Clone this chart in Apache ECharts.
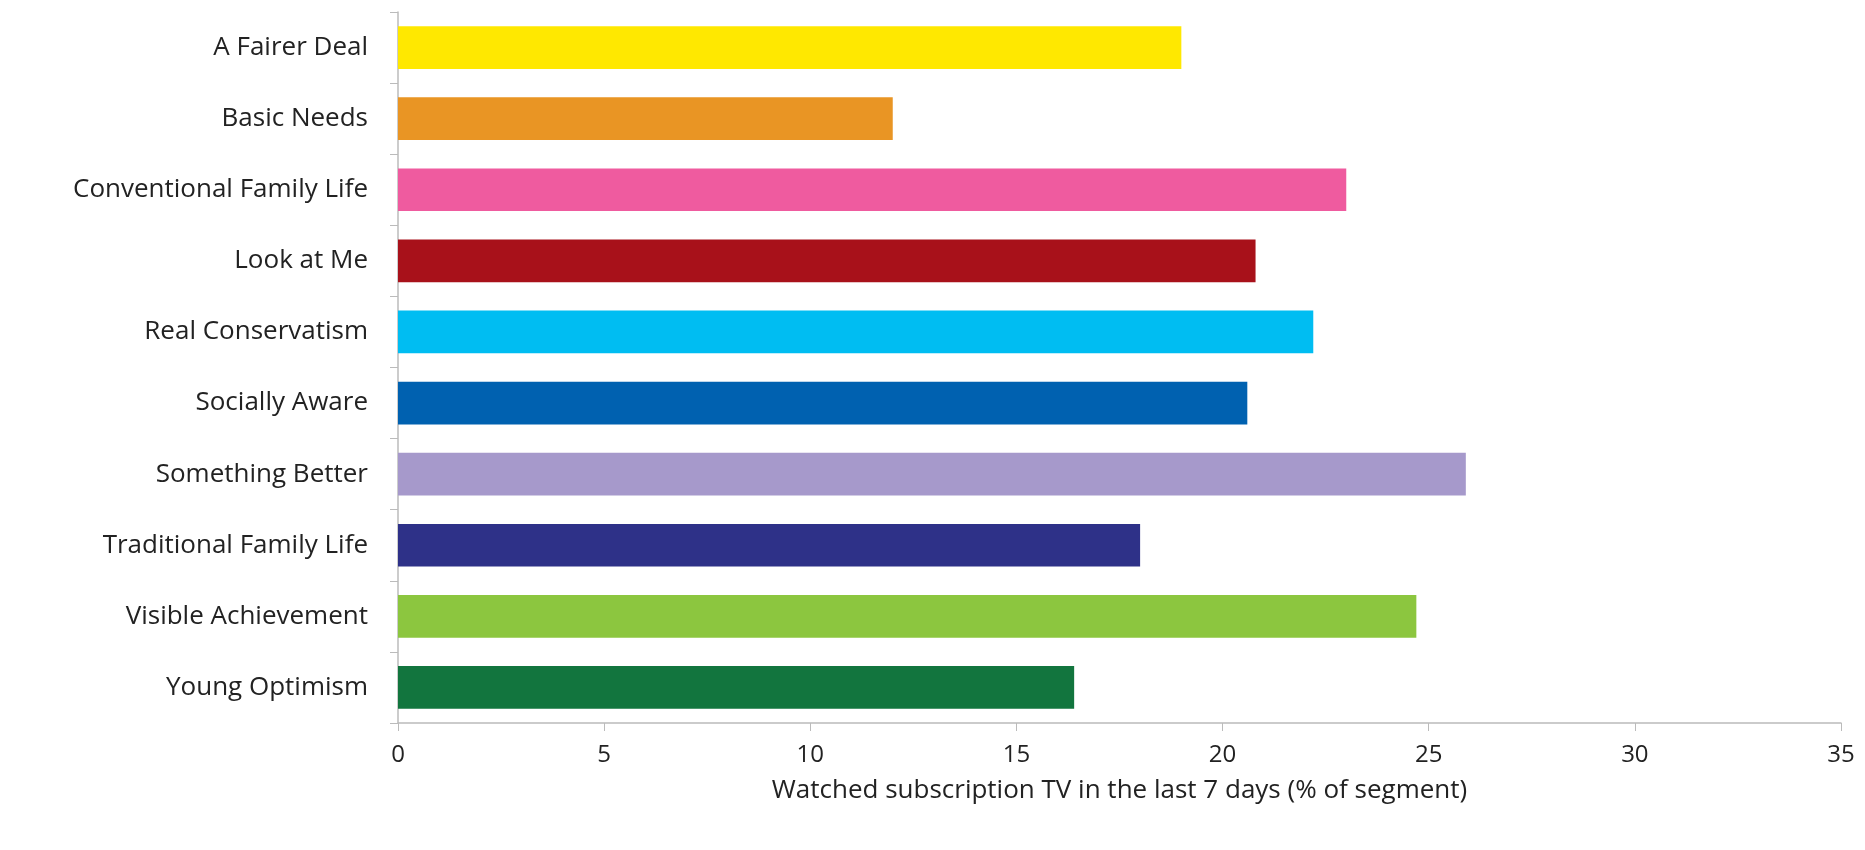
<!DOCTYPE html>
<html><head><meta charset="utf-8">
<script src="https://cdn.jsdelivr.net/npm/echarts@6/dist/echarts.min.js"></script>
<style>html,body{margin:0;padding:0;background:#fff}#c{width:1865px;height:850px}</style>
</head><body><div id="c"></div>
<script>
const categories = ["A Fairer Deal","Basic Needs","Conventional Family Life","Look at Me","Real Conservatism","Socially Aware","Something Better","Traditional Family Life","Visible Achievement","Young Optimism"];
const values = [19, 12, 23, 20.8, 22.2, 20.6, 25.9, 18, 24.7, 16.4];
const colors = ["#ffe800","#e99524","#ef5b9f","#a8111a","#00bdf2","#0061b0","#a699cb","#2e3188","#8cc63f","#12753e"];
const xTicks = [0,5,10,15,20,25,30,35];
const axisName = "Watched subscription TV in the last 7 days (% of segment)";

const chart = echarts.init(document.getElementById('c'));
chart.setOption({
  animation:false,
  textStyle:{fontFamily:'Open Sans'},
  grid:{left:398,right:24,top:12,bottom:127},
  xAxis:{type:'value',min:xTicks[0],max:xTicks[xTicks.length-1],interval:5,
    name:axisName,nameLocation:'middle',nameGap:55,
    nameTextStyle:{fontSize:26,color:'#222',fontFamily:'Open Sans'},
    axisLine:{show:true,lineStyle:{color:'#bbb',width:1.5}},
    axisTick:{show:true,length:8,lineStyle:{color:'#bbb'}},
    axisLabel:{fontSize:24,color:'#222',margin:20},
    splitLine:{show:false}},
  yAxis:{type:'category',data:categories,inverse:true,
    axisLine:{lineStyle:{color:'#bbb',width:1.5}},
    axisTick:{show:true,length:8,lineStyle:{color:'#bbb'}},
    axisLabel:{fontSize:26,color:'#222',margin:30}},
  series:[{type:'bar',barWidth:'60%',
    data:values.map((v,i)=>({value:v,itemStyle:{color:colors[i]}}))}]
});
</script></body></html>
